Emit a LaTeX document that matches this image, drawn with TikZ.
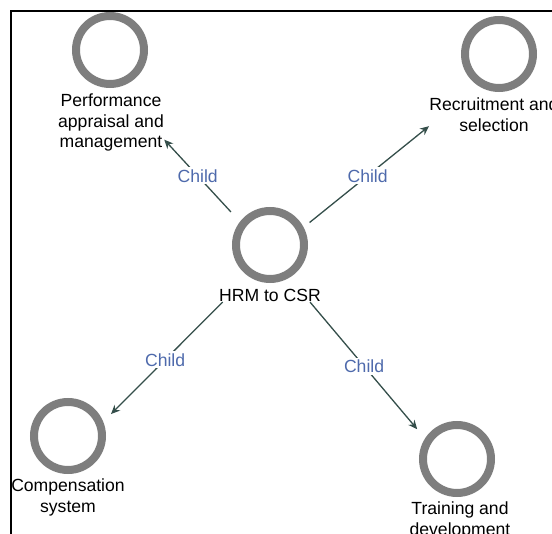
\documentclass[tikz,border=0pt]{standalone}
\usepackage{fontspec}
\setmainfont{Liberation Sans}
\usepackage{tikz}
\usetikzlibrary{calc,arrows,positioning,fit}
\usetikzlibrary{arrows.meta}
\definecolor{ring_gray}{RGB}{126,126,126}
\definecolor{edge_slate}{RGB}{52,78,74}
\definecolor{label_blue}{RGB}{78,106,172}
\tikzset{
topic/.style={circle, draw=ring_gray, line width=8pt, minimum size=68pt, inner sep=0pt},
topic_text/.style={rectangle, align=center, inner sep=0pt, text=black, font=\fontsize{17.6}{20.5}\selectfont},
group_box/.style={rectangle, inner sep=0pt, draw=none},
child_edge/.style={draw=edge_slate, line width=1.3pt, -{Stealth[length=9pt,width=8pt]}},
child_label/.style={rectangle, fill=white, inner sep=2pt, text=label_blue, font=\fontsize{17.6}{20}\selectfont},
frame_line/.style={draw=black, line width=2pt}
}

\begin{document}
\begin{tikzpicture}[x=1pt,y=-1pt]
    \useasboundingbox (0,0) rectangle (552,534);
    \clip (0,0) rectangle (552,534);
    \draw[frame_line] (11,540) -- (11,11) -- (560,11);

    \node[topic] (hrm) at (270,245) {};
    \node[topic_text] (hrm_text) [below=6pt of hrm] {HRM to CSR};
    \node[topic] (perf) at (110,50) {};
    \node[topic_text] (perf_text) [below=6pt of perf, xshift=1pt] {Performance\\appraisal and\\management};
    \node[topic] (recr) at (499,54) {};
    \node[topic_text] (recr_text) [below=6pt of recr, xshift=-5pt] {Recruitment and\\selection};
    \node[topic] (comp) at (68,436) {};
    \node[topic_text] (comp_text) [below=5pt of comp] {Compensation\\system};
    \node[topic] (train) at (457,459) {};
    \node[topic_text] (train_text) [below=5pt of train, xshift=3pt] {Training and\\development};

    \node[group_box, fit=(hrm)(hrm_text)] (hrm_box) {};
    \node[group_box, fit=(perf)(perf_text)] (perf_box) {};
    \node[group_box, fit=(recr)(recr_text)] (recr_box) {};
    \node[group_box, fit=(comp)(comp_text)] (comp_box) {};
    \node[group_box, fit=(train)(train_text)] (train_box) {};

    \draw[child_edge, shorten <=-7pt] (hrm_box) -- node[child_label, pos=0.46] {Child} (perf_box);
    \draw[child_edge, shorten <=-15pt] (hrm_box) -- node[child_label, pos=0.43] {Child} (recr_box);
    \draw[child_edge, shorten >=-20pt] (hrm_box) -- node[child_label, pos=0.59] {Child} (comp_box);
    \draw[child_edge, shorten >=-11pt] (hrm_box) -- node[child_label, pos=0.54] {Child} (train_box);
\end{tikzpicture}
\end{document}
